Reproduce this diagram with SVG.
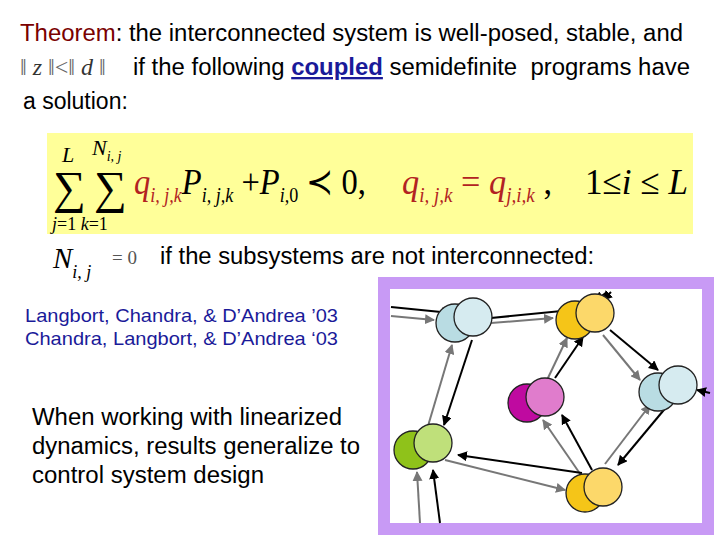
<svg xmlns="http://www.w3.org/2000/svg" width="720" height="540" viewBox="0 0 720 540">
<defs>
<style>
.t{font-family:"Liberation Sans",Arial,sans-serif;font-size:23px;fill:#000}
.m{font-family:"Liberation Serif","Times New Roman",serif;font-style:italic}
.r{fill:#b22222}
.k{stroke:#000;stroke-width:2;fill:none;marker-end:url(#ak)}
.g{stroke:#777;stroke-width:2;fill:none;marker-end:url(#ag)}
.c{stroke:#222;stroke-width:1.3}
</style>
<marker id="ak" viewBox="0 0 10 10" refX="9" refY="5" markerWidth="5" markerHeight="5" orient="auto"><path d="M0,0L10,5L0,10z" fill="#000"/></marker>
<marker id="ag" viewBox="0 0 10 10" refX="9" refY="5" markerWidth="5" markerHeight="5" orient="auto"><path d="M0,0L10,5L0,10z" fill="#777"/></marker>
</defs>
<rect width="720" height="540" fill="#fff"/>
<text class="t" x="20" y="41" textLength="663" lengthAdjust="spacingAndGlyphs"><tspan fill="#7a0000">Theorem</tspan>: the interconnected system is well-posed, stable, and</text>
<text x="20" y="75" style="font-family:'Liberation Serif',serif;font-size:24px;fill:#666">‖ <tspan class="m" fill="#333">z</tspan> ‖&lt;‖ <tspan class="m" fill="#333">d</tspan> ‖</text>
<text class="t" x="133" y="75" xml:space="preserve" textLength="557" lengthAdjust="spacingAndGlyphs">if the following <tspan fill="#1a1a99" font-weight="bold" text-decoration="underline">coupled</tspan> semidefinite  programs have</text>
<text class="t" x="23" y="109">a solution:</text>
<rect x="47" y="133" width="646" height="101" fill="#ffff99"/>
<g font-family="'Liberation Serif','Times New Roman',serif" font-size="36">
<text x="53" y="203" font-size="46">∑</text>
<text x="94" y="203" font-size="46">∑</text>
<text x="62" y="162" font-size="22" class="m">L</text>
<text x="92" y="155" font-size="22" class="m">N<tspan font-size="14" dy="6">i, j</tspan></text>
<text x="52" y="230" font-size="18"><tspan class="m">j</tspan>=1 <tspan class="m">k</tspan>=1</text>
<text x="134" y="194" textLength="232" lengthAdjust="spacingAndGlyphs"><tspan class="m r">q</tspan><tspan class="m r" font-size="20" dy="8">i, j,k</tspan><tspan class="m" dy="-8">P</tspan><tspan class="m" font-size="20" dy="8">i, j,k</tspan><tspan dy="-8"> +</tspan><tspan class="m">P</tspan><tspan class="m" font-size="20" dy="8">i,</tspan><tspan font-size="20">0</tspan><tspan dy="-8"> ≺ 0,</tspan></text>
<text x="402" y="194" textLength="150" lengthAdjust="spacingAndGlyphs"><tspan class="m r">q</tspan><tspan class="m r" font-size="20" dy="8">i, j,k</tspan><tspan class="r" dy="-8"> = </tspan><tspan class="m r">q</tspan><tspan class="m r" font-size="20" dy="8">j,i,k</tspan><tspan dy="-8"> ,</tspan></text>
<text x="585" y="194" textLength="103" lengthAdjust="spacingAndGlyphs">1≤<tspan class="m">i</tspan> ≤ <tspan class="m">L</tspan></text>
<text x="53" y="268" font-size="29" class="m">N<tspan font-size="18" dy="10">i, j</tspan></text>
<text x="112" y="264" font-size="19" fill="#555">=  0</text>
</g>
<text class="t" x="160" y="264" textLength="434" lengthAdjust="spacingAndGlyphs">if the subsystems are not interconnected:</text>
<g font-family="'Liberation Sans',Arial,sans-serif" font-size="19" fill="#1a1a99">
<text x="25" y="322" textLength="313" lengthAdjust="spacingAndGlyphs">Langbort, Chandra, &amp; D’Andrea ’03</text>
<text x="25" y="345" textLength="313" lengthAdjust="spacingAndGlyphs">Chandra, Langbort, &amp; D’Andrea ‘03</text>
</g>
<g class="t"><text x="32" y="425" textLength="310" lengthAdjust="spacingAndGlyphs">When working with linearized</text><text x="32" y="454" textLength="328" lengthAdjust="spacingAndGlyphs">dynamics, results generalize to</text><text x="32" y="483" textLength="232" lengthAdjust="spacingAndGlyphs">control system design</text></g>
<rect x="384" y="283" width="324" height="246" fill="#fff" stroke="#c89af5" stroke-width="12"/>
<g id="connectors">
<path class="k" d="M391,307 L451,313"/><path class="g" d="M391,316 L434,320"/>
<path class="k" d="M491,318 L572,310"/><path class="g" d="M491,323 L553,318"/>
<path class="k" d="M607,292 L595,301"/><path class="k" d="M611,292 L603,300"/>
<path class="k" d="M610,330 L658,370"/><path class="g" d="M603,335 L640,380"/>
<path class="k" d="M555,378 L583,337"/><path class="g" d="M547,380 L567,338"/>
<path class="k" d="M592,470 L562,415"/><path class="g" d="M583,478 L543,420"/>
<path class="k" d="M582,473 L458,455"/><path class="g" d="M445,460 L565,490"/>
<path class="k" d="M472,340 L444,425"/><path class="g" d="M428,426 L452,345"/>
<path class="k" d="M668,405 L618,465"/><path class="g" d="M605,464 L650,405"/>
<path class="k" d="M710,393 L697,390"/>
<path class="g" d="M420,523 L417,472"/><path class="k" d="M440,523 L433,470"/>
</g>
<g id="n1" class="c" fill="#b9dce3"><circle cx="455" cy="323" r="19"/><circle cx="473" cy="317" r="19" fill="#d6ebf0"/></g>
<g id="n2" class="c" fill="#f5c518"><circle cx="575" cy="320" r="19"/><circle cx="595" cy="313" r="19" fill="#fcd86a"/></g>
<g id="n3" class="c" fill="#bf0aa0"><circle cx="527" cy="403" r="19"/><circle cx="545" cy="397" r="19" fill="#e07ccc"/></g>
<g id="n4" class="c" fill="#b9dce3"><circle cx="658" cy="392" r="19"/><circle cx="678" cy="385" r="19" fill="#d6ebf0"/></g>
<g id="n5" class="c" fill="#8fc21a"><circle cx="413" cy="450" r="19"/><circle cx="433" cy="443" r="19" fill="#bfe07a"/></g>
<g id="n6" class="c" fill="#f5c518"><circle cx="585" cy="493" r="19"/><circle cx="603" cy="487" r="19" fill="#fcd86a"/></g>
</svg>
